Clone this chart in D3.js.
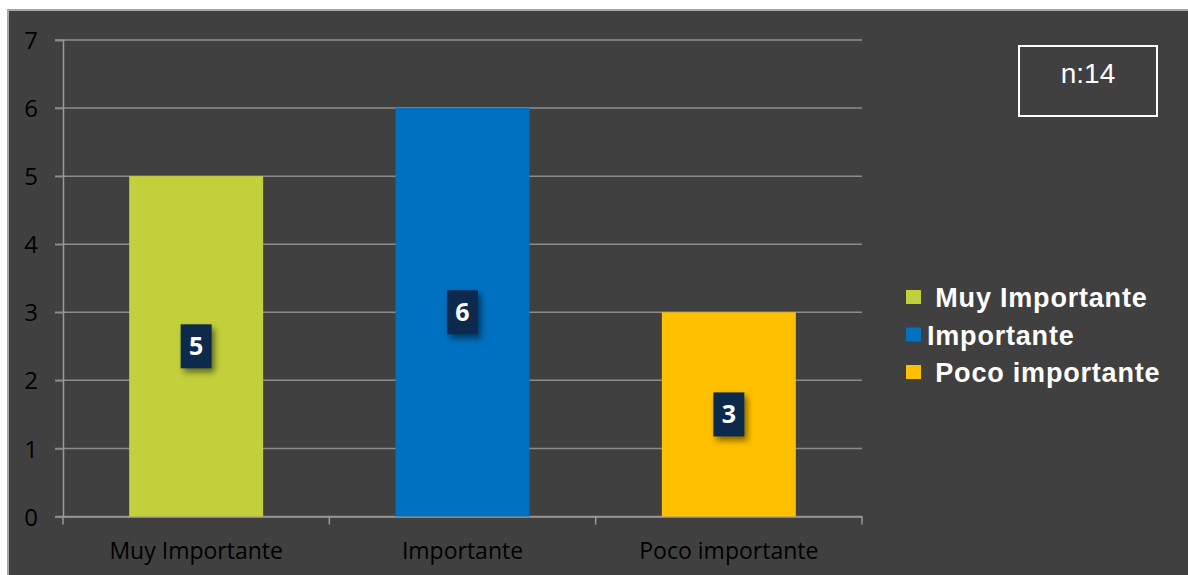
<!DOCTYPE html>
<html>
<head>
	<title>Importancia</title>
	<meta charset="utf-8">
	<script src="https://cdn.jsdelivr.net/npm/d3@7/dist/d3.min.js"></script>
	<style>
	body{
		margin: 0;
		background: #ffffff;
	}
	#chart text{
		font-family: "Open Sans", sans-serif;
	}
	#chart .legend text{
		font-family: "Liberation Sans", Arial, sans-serif;
		font-weight: bold;
		white-space: pre;
	}
	</style>
</head>
<body>
<svg id="chart" width="1188" height="575"></svg>
<script>
	// data
	var categories = ["Muy Importante", "Importante", "Poco importante"];
	var values = [5, 6, 3];
	var colors = ["#c3d03b", "#0070c0", "#ffc000"];
	var legendLabels = [" Muy Importante", "Importante", " Poco importante"];
	var yTicks = [0, 1, 2, 3, 4, 5, 6, 7];
	var sampleNote = "n:14";

	var svg = d3.select("#chart");

	// drop shadow for the value boxes
	var filter = svg.append("defs").append("filter")
		.attr("id", "shadow")
		.attr("x", "-50%").attr("y", "-50%")
		.attr("width", "200%").attr("height", "200%");
	filter.append("feDropShadow")
		.attr("dx", 3)
		.attr("dy", 4)
		.attr("stdDeviation", 3)
		.attr("flood-color", "#000")
		.attr("flood-opacity", 0.5);

	// chart background with the light border on top and left
	svg.append("rect")
		.attr("x", 8)
		.attr("y", 10)
		.attr("width", 1200)
		.attr("height", 600)
		.attr("fill", "#404040")
		.attr("stroke", "#a6a6a6")
		.attr("stroke-width", 2);

	var plotLeft = 63, plotRight = 862, plotTop = 40, plotBottom = 516.5;

	var x = d3.scaleBand()
		.domain(categories)
		.range([plotLeft, plotRight]);

	var y = d3.scaleLinear()
		.domain([0, 7])
		.range([plotBottom, plotTop]);

	var barWidth = x.bandwidth() * 0.503;

	// gridlines
	svg.append("g")
		.selectAll("line")
		.data(yTicks)
		.enter()
		.append("line")
			.attr("x1", plotLeft - 8)
			.attr("x2", plotRight)
			.attr("y1", function(d){ return y(d); })
			.attr("y2", function(d){ return y(d); })
			.attr("stroke", "#8c8c8c")
			.attr("stroke-width", 1.5);

	// y axis
	var yAxis = svg.append("g")
		.attr("transform", "translate(" + plotLeft + ",0)")
		.call(d3.axisLeft(y).tickValues(yTicks).tickSize(8).tickPadding(17).tickFormat(d3.format("d")));
	yAxis.select(".domain").attr("stroke", "#9a9a9a").attr("stroke-width", 1.5);
	yAxis.selectAll(".tick line").attr("stroke", "#8c8c8c").attr("stroke-width", 1.5);
	yAxis.selectAll("text")
		.attr("fill", "#000")
		.attr("font-size", "24px")
		.attr("dy", "0.36em");

	// x axis with ticks between categories
	var xAxis = svg.append("g")
		.attr("transform", "translate(0," + plotBottom + ")")
		.call(d3.axisBottom(x).tickSize(0).tickPadding(26));
	xAxis.select(".domain").attr("stroke", "#9a9a9a").attr("stroke-width", 1.5);
	xAxis.selectAll("text")
		.attr("fill", "#000")
		.attr("font-size", "23px");

	var sepTicks = categories.map(function(c){ return x(c); }).concat([x(categories[categories.length - 1]) + x.bandwidth()]);
	svg.append("g")
		.selectAll("line")
		.data(sepTicks)
		.enter()
		.append("line")
			.attr("x1", function(d){ return d; })
			.attr("x2", function(d){ return d; })
			.attr("y1", plotBottom)
			.attr("y2", plotBottom + 8)
			.attr("stroke", "#9a9a9a")
			.attr("stroke-width", 1.5);

	// bars
	svg.append("g")
		.selectAll("rect")
		.data(values)
		.enter()
		.append("rect")
			.attr("x", function(d, i){ return x(categories[i]) + (x.bandwidth() - barWidth) / 2; })
			.attr("y", function(d){ return y(d); })
			.attr("width", barWidth)
			.attr("height", function(d){ return plotBottom - y(d); })
			.attr("fill", function(d, i){ return colors[i]; });

	// value boxes in the middle of each bar
	var labels = svg.append("g")
		.selectAll("g")
		.data(values)
		.enter()
		.append("g")
			.attr("transform", function(d, i){
				return "translate(" + (x(categories[i]) + x.bandwidth() / 2) + "," + ((y(d) + plotBottom) / 2) + ")";
			});
	labels.append("rect")
		.attr("x", -15.5)
		.attr("y", -22)
		.attr("width", 31)
		.attr("height", 44)
		.attr("fill", "#0e2b4d")
		.attr("filter", "url(#shadow)");
	labels.append("text")
		.attr("text-anchor", "middle")
		.attr("dy", "0.36em")
		.attr("font-size", "25px")
		.attr("font-weight", "bold")
		.attr("fill", "#fff")
		.text(function(d){ return d; });

	// legend
	var legend = svg.append("g")
		.attr("class", "legend")
		.attr("transform", "translate(906,290)");
	var items = legend.selectAll("g")
		.data(legendLabels)
		.enter()
		.append("g")
			.attr("transform", function(d, i){ return "translate(0," + (i * 37.5) + ")"; });
	items.append("rect")
		.attr("width", 15)
		.attr("height", 14)
		.attr("fill", function(d, i){ return colors[i]; });
	items.append("text")
		.attr("x", 21)
		.attr("y", 17)
		.attr("font-size", "27px")
		.attr("letter-spacing", "0.8px")
		.attr("fill", "#fff")
		.text(function(d){ return d; });

	// sample size box
	svg.append("rect")
		.attr("x", 1019)
		.attr("y", 46)
		.attr("width", 138)
		.attr("height", 70)
		.attr("fill", "none")
		.attr("stroke", "#fff")
		.attr("stroke-width", 2);
	svg.append("text")
		.attr("x", 1088)
		.attr("y", 83)
		.attr("text-anchor", "middle")
		.attr("font-size", "28px")
		.attr("fill", "#fff")
		.style("font-family", "'Liberation Sans', Arial, sans-serif")
		.text(sampleNote);
</script>
</body>
</html>
